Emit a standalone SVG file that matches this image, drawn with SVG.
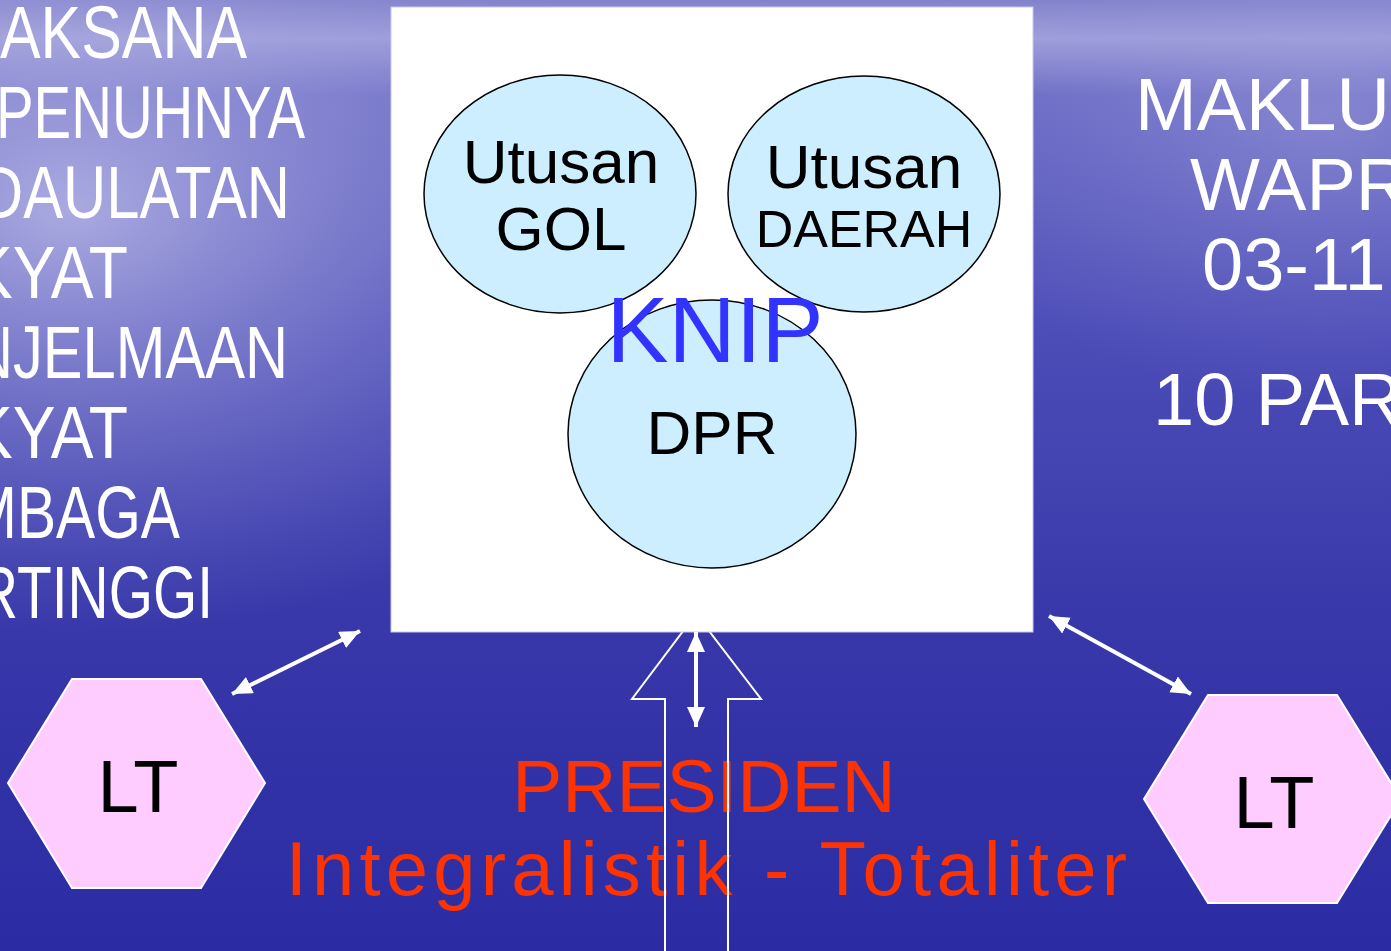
<svg xmlns="http://www.w3.org/2000/svg" width="1391" height="951" viewBox="0 0 1391 951">
<defs>
<linearGradient id="bgv" x1="0" y1="0" x2="0" y2="1">
<stop offset="0" stop-color="#8282cc"/>
<stop offset="0.04" stop-color="#a2a2dc"/>
<stop offset="0.10" stop-color="#6c6cc6"/>
<stop offset="0.35" stop-color="#4d4db8"/>
<stop offset="0.65" stop-color="#3838aa"/>
<stop offset="1" stop-color="#2b2ba4"/>
</linearGradient>
<radialGradient id="glowL" cx="0.05" cy="0.22" r="0.45">
<stop offset="0" stop-color="#c4c4ec" stop-opacity="0.75"/>
<stop offset="0.5" stop-color="#a0a0dc" stop-opacity="0.4"/>
<stop offset="1" stop-color="#8080d0" stop-opacity="0"/>
</radialGradient>
<radialGradient id="glowR" cx="0.95" cy="0.12" r="0.3">
<stop offset="0" stop-color="#a0a0dc" stop-opacity="0.5"/>
<stop offset="1" stop-color="#8080d0" stop-opacity="0"/>
</radialGradient>
<marker id="ah" markerUnits="userSpaceOnUse" markerWidth="22" markerHeight="20" refX="20" refY="9" orient="auto-start-reverse">
<path d="M0,0 L20,9 L0,18 Z" fill="#ffffff"/>
</marker>
<style>
text { font-family: "Liberation Sans", Arial, sans-serif; }
.wt { fill: #ffffff; font-size: 74px; }
.bub { fill: #cceeff; stroke: #000000; stroke-width: 1.5; }
.blk { fill: #000000; text-anchor: middle; }
.hex { fill: #ffccff; stroke: #ffffff; stroke-width: 2; }
.red { fill: #ff3300; text-anchor: middle; }
.conn { stroke: #ffffff; stroke-width: 4; fill: none; marker-start: url(#ah); marker-end: url(#ah); }
</style>
</defs>
<rect x="0" y="0" width="1391" height="951" fill="url(#bgv)"/>
<rect x="0" y="0" width="1391" height="951" fill="url(#glowL)"/>
<rect x="0" y="0" width="1391" height="951" fill="url(#glowR)"/>
<g id="left-text">
<text class="wt" x="0" y="58" textLength="247" lengthAdjust="spacingAndGlyphs">AKSANA</text>
<text class="wt" x="-4" y="138" textLength="309" lengthAdjust="spacingAndGlyphs">PENUHNYA</text>
<text class="wt" x="-20" y="218" textLength="310" lengthAdjust="spacingAndGlyphs">DAULATAN</text>
<text class="wt" x="-30" y="298" textLength="158" lengthAdjust="spacingAndGlyphs">KYAT</text>
<text class="wt" x="-30" y="378" textLength="318" lengthAdjust="spacingAndGlyphs">NJELMAAN</text>
<text class="wt" x="-30" y="458" textLength="158" lengthAdjust="spacingAndGlyphs">KYAT</text>
<text class="wt" x="-32" y="538" textLength="212" lengthAdjust="spacingAndGlyphs">MBAGA</text>
<text class="wt" x="-23" y="618" textLength="236" lengthAdjust="spacingAndGlyphs">RTINGGI</text>
</g>
<g id="right-text">
<text class="wt" x="1135" y="130">MAKLU</text>
<text class="wt" x="1190" y="210">WAPR</text>
<text class="wt" x="1202" y="290">03-11</text>
<text class="wt" x="1153" y="425">10 PAR</text>
</g>
<g id="presiden">
<text class="red" x="704" y="812" font-size="75">PRESIDEN</text>
<text class="red" x="709" y="895" font-size="76" letter-spacing="5.2">Integralistik - Totaliter</text>
</g>
<g id="up-arrow">
<polygon points="665,960 665,699 632,699 696,614 761,699 728,699 728,960" fill="none" stroke="#ffffff" stroke-width="2"/>
</g>
<g id="knip">
<rect x="391" y="7" width="642" height="625" fill="#ffffff" stroke="#c8c8ee" stroke-width="1"/>
<g id="dpr">
<ellipse class="bub" cx="712" cy="434" rx="144" ry="134"/>
<text class="blk" x="712" y="454" font-size="62">DPR</text>
</g>
<g id="gol">
<ellipse class="bub" cx="560" cy="194" rx="136" ry="119"/>
<text class="blk" x="561" y="183" font-size="62">Utusan</text>
<text class="blk" x="561" y="250" font-size="62">GOL</text>
</g>
<g id="daerah">
<ellipse class="bub" cx="864" cy="194" rx="136" ry="118"/>
<text class="blk" x="864" y="188" font-size="62">Utusan</text>
<text class="blk" x="864" y="247" font-size="52">DAERAH</text>
</g>
<text x="715" y="362" font-size="93" fill="#3333ff" text-anchor="middle">KNIP</text>
</g>
<g id="lt-left">
<polygon class="hex" points="72,679 201,679 265,783 201,888 72,888 8,783"/>
<text class="blk" x="138" y="812" font-size="74">LT</text>
</g>
<g id="lt-right">
<polygon class="hex" points="1208,695 1337,695 1401,799 1337,903 1208,903 1144,799"/>
<text class="blk" x="1274" y="828" font-size="74">LT</text>
</g>
<g id="connectors">
<line class="conn" x1="232" y1="694" x2="360" y2="631"/>
<line class="conn" x1="1049" y1="616" x2="1191" y2="694"/>
<line class="conn" x1="696" y1="632" x2="696" y2="727"/>
</g>
</svg>
